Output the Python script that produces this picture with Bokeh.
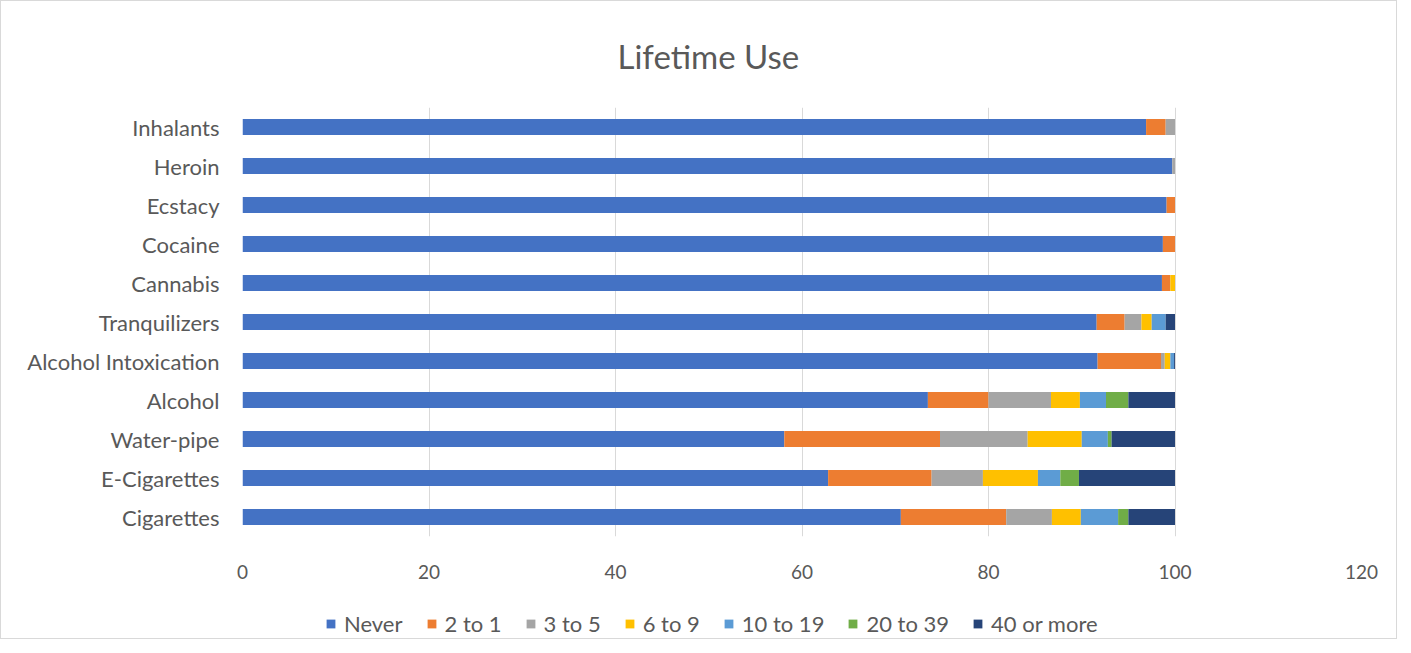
from bokeh.plotting import figure
from bokeh.layouts import column
from bokeh.models import Range1d, FactorRange, SingleIntervalTicker, Legend, LegendItem
from bokeh.embed import file_html
from bokeh.resources import INLINE

categories = ["Cigarettes", "E-Cigarettes", "Water-pipe", "Alcohol", "Alcohol Intoxication",
              "Tranquilizers", "Cannabis", "Cocaine", "Ecstacy", "Heroin", "Inhalants"]
series_names = ["Never", "2 to 1", "3 to 5", "6 to 9", "10 to 19", "20 to 39", "40 or more"]
never = [70.6, 62.8, 58.1, 73.5, 91.7, 91.6, 98.6, 98.7, 99.1, 99.7, 96.9]
two_to_1 = [11.3, 11.1, 16.7, 6.5, 6.8, 3.0, 0.9, 1.3, 0.9, 0.0, 2.1]
three_to_5 = [4.9, 5.5, 9.4, 6.7, 0.4, 1.8, 0.0, 0.0, 0.0, 0.3, 1.0]
six_to_9 = [3.1, 5.9, 5.8, 3.1, 0.6, 1.1, 0.5, 0.0, 0.0, 0.0, 0.0]
ten_to_19 = [4.0, 2.4, 2.8, 2.8, 0.4, 1.5, 0.0, 0.0, 0.0, 0.0, 0.0]
twenty_to_39 = [1.1, 2.0, 0.4, 2.4, 0.0, 0.0, 0.0, 0.0, 0.0, 0.0, 0.0]
forty_plus = [5.0, 10.3, 6.8, 5.0, 0.1, 1.0, 0.0, 0.0, 0.0, 0.0, 0.0]
colors = ["#4472C4", "#ED7D31", "#A5A5A5", "#FFC000", "#5B9BD5", "#70AD47", "#264478"]

FONT = "Lato"
TXT = "#595959"

data = {"cat": categories}
keys = []
for name, vals in zip(series_names, [never, two_to_1, three_to_5, six_to_9, ten_to_19, twenty_to_39, forty_plus]):
    data[name] = vals
    keys.append(name)

p = figure(width=1395, height=580, output_backend="svg", toolbar_location=None,
           y_range=FactorRange(factors=categories), x_range=Range1d(0, 120),
           min_border_left=241, min_border_right=35, min_border_top=106, min_border_bottom=42)

renderers = p.hbar_stack(keys, y="cat", height=0.41, color=colors, line_width=0, source=data)

p.title.text = "Lifetime Use"
p.title.align = "left"
p.title.offset = 375
p.title.text_font = FONT
p.title.text_font_size = "33px"
p.title.text_font_style = "normal"
p.title.text_color = TXT
p.title.standoff = 64

p.xaxis.ticker = SingleIntervalTicker(interval=20)
for ax in [p.xaxis[0], p.yaxis[0]]:
    ax.axis_line_color = None
    ax.major_tick_line_color = None
    ax.minor_tick_line_color = None
    ax.major_tick_out = 0
    ax.major_tick_in = 0
    ax.major_label_text_font = FONT
    ax.major_label_text_color = TXT
p.xaxis.major_label_text_font_size = "19px"
p.yaxis.major_label_text_font_size = "22px"
p.xaxis.major_label_standoff = 24
p.yaxis.major_label_standoff = 23

p.xgrid.grid_line_color = "#d9d9d9"
p.xgrid.grid_line_width = 1
p.ygrid.grid_line_color = None
p.outline_line_color = None

# legend strip: same stacked bars as legend proxies; categorical y on a numeric range draws nothing
q = figure(width=1395, height=57, output_backend="svg", toolbar_location=None,
           x_range=Range1d(0, 1), y_range=Range1d(0, 1),
           min_border_left=0, min_border_right=0, min_border_top=0, min_border_bottom=0)
q.axis.visible = False
q.grid.grid_line_color = None
q.outline_line_color = None
proxies = q.hbar_stack(keys, y="cat", height=0.41, color=colors, line_width=0, source=data)
items = [LegendItem(label=n, renderers=[r]) for n, r in zip(series_names, proxies)]
legend = Legend(items=items, orientation="horizontal", location=(83, 1),
                label_text_font=FONT, label_text_font_size="22px", label_text_color=TXT,
                glyph_width=11, glyph_height=11, label_standoff=8, spacing=23,
                border_line_color=None, background_fill_alpha=0, margin=0, padding=2)
q.add_layout(legend)

layout = column(p, q, spacing=0, styles={"border": "1px solid #d9d9d9"})
open("out.html", "w").write(file_html(layout, INLINE))
